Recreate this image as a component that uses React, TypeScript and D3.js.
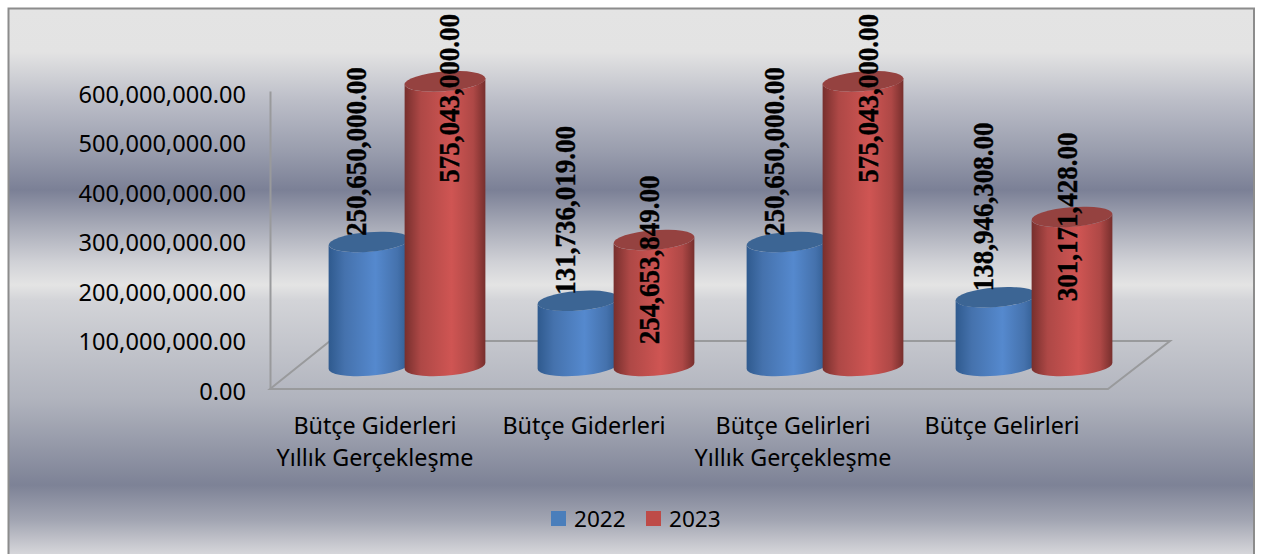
import React, { useEffect, useRef } from 'react'
import * as d3 from 'd3'

const categories = ['Bütçe Giderleri|Yıllık Gerçekleşme', 'Bütçe Giderleri', 'Bütçe Gelirleri|Yıllık Gerçekleşme', 'Bütçe Gelirleri']
const years = ['2022', '2023']
const values2022 = [250650000, 131736019, 250650000, 138946308]
const values2023 = [575043000, 254653849, 575043000, 301171428]
const yTicks = [0, 100000000, 200000000, 300000000, 400000000, 500000000, 600000000]

// the labels were placed by hand in the original, so they do not follow one rule
const labelDx2023 = [43, 34, 44, 34]
const labelDy2023 = [17, 20, 17, 0]

const colors = {
  '2022': { edge: '#2f5a8e', soft: '#4572ad', mid: '#5589ce', top: '#3c6594', key: '#4a7ebb' },
  '2023': { edge: '#772f2d', soft: '#ae4846', mid: '#cf5553', top: '#954240', key: '#be4b48' },
}

const tiltDeg = -4.5
const tilt = tiltDeg * Math.PI / 180
const rx = 40.5
const ry = 9.8

// points of the tilted ellipse where the cylinder sides touch it
const tangentT = Math.atan(-(ry / rx) * Math.tan(tilt))
const sideX = rx * Math.cos(tangentT) * Math.cos(tilt) - ry * Math.sin(tangentT) * Math.sin(tilt)
const sideY = rx * Math.cos(tangentT) * Math.sin(tilt) + ry * Math.sin(tangentT) * Math.cos(tilt)

function App() {
  const svgRef = useRef<SVGSVGElement>(null)

  useEffect(() => {
    const svg = d3.select(svgRef.current)
    svg.selectAll('*').remove()

    const defs = svg.append('defs')
    const bg = defs.append('linearGradient').attr('id', 'bg')
      .attr('gradientUnits', 'userSpaceOnUse')
      .attr('x1', 0).attr('x2', 0).attr('y1', 8).attr('y2', 554)
    const bgStops: [number, string][] = [
      [8, '#e4e4e4'], [52, '#e3e3e3'], [100, '#bcbec8'], [150, '#9a9eae'], [190, '#7b8096'],
      [225, '#a6a9b6'], [262, '#d0d1d6'], [285, '#e4e4e4'], [300, '#d3d4d8'], [400, '#b0b3bd'],
      [485, '#7d8296'], [520, '#a2a5b2'], [554, '#d6d6da'],
    ]
    bgStops.forEach(([y, c]) => {
      bg.append('stop').attr('offset', (y - 8) / 546).attr('stop-color', c)
    })
    years.forEach((yr) => {
      const c = colors[yr]
      const g = defs.append('linearGradient').attr('id', 'cyl' + yr)
      g.append('stop').attr('offset', 0).attr('stop-color', c.edge)
      g.append('stop').attr('offset', 0.2).attr('stop-color', c.soft)
      g.append('stop').attr('offset', 0.58).attr('stop-color', c.mid)
      g.append('stop').attr('offset', 0.85).attr('stop-color', c.soft)
      g.append('stop').attr('offset', 1).attr('stop-color', c.edge)
    })

    svg.append('rect')
      .attr('x', 8.5).attr('y', 8.5).attr('width', 1245.5).attr('height', 560)
      .attr('fill', 'url(#bg)').attr('stroke', '#8c8c8c').attr('stroke-width', 2)

    const yScale = d3.scaleLinear().domain([0, 600000000]).range([388, 91])
    const x0 = d3.scaleBand().domain(categories).range([329, 1165])
    const x1 = d3.scaleBand().domain(years).range([0, 152])

    // floor of the 3d box
    svg.append('path')
      .attr('d', d3.line()([[270, 389], [330, 341], [1170, 341], [1108, 389]]) + 'Z')
      .attr('fill', 'none').attr('stroke', '#999a9c').attr('stroke-width', 2)

    const yAxis = svg.append('g')
      .attr('transform', 'translate(270,0)')
      .call(d3.axisLeft(yScale).tickValues(yTicks).tickSize(0).tickPadding(24).tickFormat(d3.format(',.2f')))
    yAxis.select('.domain').attr('stroke', '#999a9c').attr('stroke-width', 2)
    yAxis.selectAll('text')
      .attr('font-family', '"Noto Sans"').attr('font-size', 23.6).attr('fill', '#000')
      .attr('dy', 11)

    // cylinders
    const base = yScale(0) - 22
    const drawCylinder = (yr: string, cat: string, v: number) => {
      const cx = x0(cat) + x1(yr) + 40
      const top = base - (yScale(0) - yScale(v))
      const body = `M${cx - sideX},${top - sideY}L${cx - sideX},${base - sideY}`
        + `A${rx},${ry} ${tiltDeg} 0 0 ${cx + sideX},${base + sideY}`
        + `L${cx + sideX},${top + sideY}`
        + `A${rx},${ry} ${tiltDeg} 0 1 ${cx - sideX},${top - sideY}Z`
      svg.append('path').attr('d', body).attr('fill', `url(#cyl${yr})`)
      svg.append('ellipse')
        .attr('rx', rx).attr('ry', ry)
        .attr('transform', `translate(${cx},${top}) rotate(${tiltDeg})`)
        .attr('fill', colors[yr].top)
    }
    categories.forEach((cat, i) => {
      drawCylinder('2022', cat, values2022[i])
      drawCylinder('2023', cat, values2023[i])
    })

    // data labels
    const drawLabel = (x: number, y: number, v: number, anchor: string) => {
      svg.append('text')
        .attr('transform', `translate(${x},${y}) rotate(-90) scale(1,1.12)`)
        .attr('text-anchor', anchor)
        .attr('dominant-baseline', 'central')
        .attr('font-family', '"Liberation Serif"').attr('font-weight', 'bold').attr('font-size', 27)
        .attr('fill', '#000').attr('stroke', '#000').attr('stroke-width', 0.35)
        .text(d3.format(',.2f')(v))
    }
    categories.forEach((cat, i) => {
      const top22 = base - (yScale(0) - yScale(values2022[i]))
      const top23 = base - (yScale(0) - yScale(values2023[i]))
      drawLabel(x0(cat) + x1('2022') + 26, top22 - 6, values2022[i], 'start')
      drawLabel(x0(cat) + x1('2023') + labelDx2023[i], top23 + labelDy2023[i], values2023[i], 'middle')
    })

    // category labels
    categories.forEach((cat) => {
      const t = svg.append('text')
        .attr('text-anchor', 'middle')
        .attr('font-family', '"Noto Sans"').attr('font-size', 23.3).attr('fill', '#000')
      cat.split('|').forEach((line, j) => {
        t.append('tspan')
          .attr('x', x0(cat) + 46)
          .attr('y', 434 + j * 32)
          .text(line)
      })
    })

    // legend
    const legendX = d3.scaleOrdinal<string, number>().domain(years).range([551, 646])
    years.forEach((yr) => {
      svg.append('rect')
        .attr('x', legendX(yr)).attr('y', 511).attr('width', 15).attr('height', 15)
        .attr('fill', colors[yr].key)
      svg.append('text')
        .attr('x', legendX(yr) + 23).attr('y', 527)
        .attr('font-family', '"Noto Sans"').attr('font-size', 22.6).attr('fill', '#000')
        .text(yr)
    })
  }, [])

  return <svg ref={svgRef} width={1261} height={554} style={{ position: 'absolute', left: 0, top: 0 }} />
}

export default App
